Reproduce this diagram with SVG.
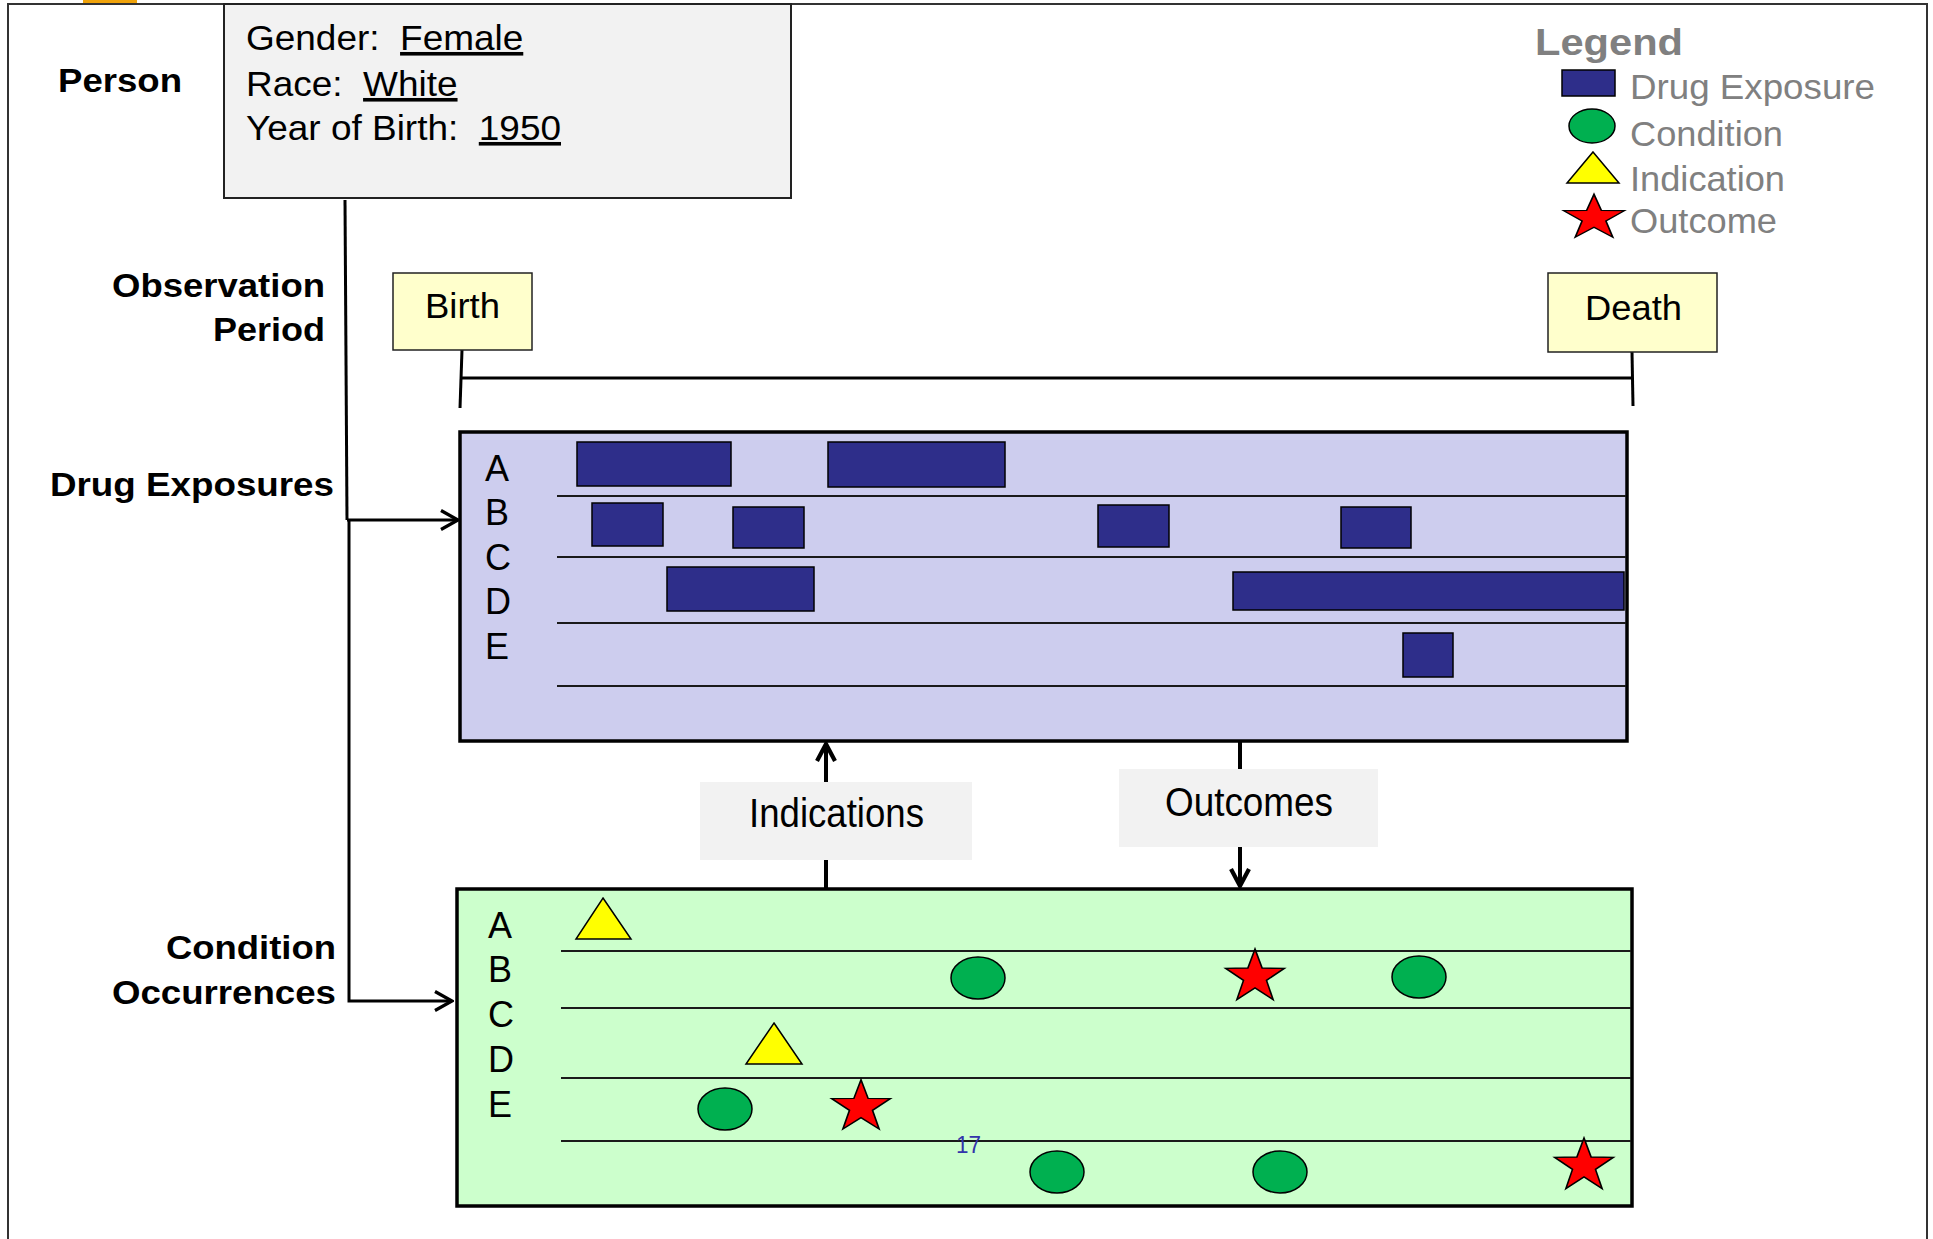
<svg xmlns="http://www.w3.org/2000/svg" xmlns:xlink="http://www.w3.org/1999/xlink" width="1933" height="1239" viewBox="0 0 1933 1239">
<style>
text{font-family:"Liberation Sans",Arial,sans-serif;fill:#000;white-space:pre}
.b{font-weight:bold;font-size:33px}
.lg{fill:#808080;font-size:35px}
.row{font-size:36px}
.u{text-decoration:underline}
.drug{fill:#2e2e8a;stroke:#000;stroke-width:1.5}
.cond{fill:#00b050;stroke:#000;stroke-width:1.5}
.ind{fill:#ffff00;stroke:#000;stroke-width:1.5}
.out{fill:#ff0000;stroke:#000;stroke-width:1.5}
.rl{stroke:#1a1a1a;stroke-width:2.2;fill:none}
.cn{stroke:#000;stroke-width:3;fill:none}
.cn2{stroke:#000;stroke-width:4;fill:none}
.tag{fill:#ffffcc;stroke:#222;stroke-width:1.5}
.lab{fill:#f2f2f2}
</style>
<defs>
<marker id="arr" viewBox="0 0 22 22" refX="20" refY="11" markerWidth="22" markerHeight="22" markerUnits="userSpaceOnUse" orient="auto">
<path d="M3,1.5 L20,11 L3,20.5" fill="none" stroke="#000" stroke-width="3.2"/>
</marker>
<marker id="arr2" viewBox="0 0 22 22" refX="20" refY="11" markerWidth="22" markerHeight="22" markerUnits="userSpaceOnUse" orient="auto">
<path d="M3,2 L20,11 L3,20" fill="none" stroke="#000" stroke-width="4.2"/>
</marker>
<path id="star" d="M0,-28 L6.47,-8.9 L26.63,-8.65 L10.46,3.4 L16.46,22.65 L0,11 L-16.46,22.65 L-10.46,3.4 L-26.63,-8.65 L-6.47,-8.9 Z"/>
</defs>
<rect width="1933" height="1239" fill="#fff"/>
<g id="frame">
<path d="M8,1239 V4 H1927 V1239" fill="none" stroke="#333" stroke-width="2"/>
<rect x="83" y="0" width="54" height="3" fill="#f0a30a"/>
</g>
<g id="connectors">
<path class="cn" d="M462,350 L460,408"/>
<path class="cn" d="M1632,352 L1633,406"/>
<path class="cn" d="M462,378 H1632"/>
<path class="cn" d="M345,200 L347,520"/>
<path class="cn" d="M347,520 H458" marker-end="url(#arr)"/>
<path class="cn" d="M349,520 V1001 H452" marker-end="url(#arr)"/>
<path class="cn2" d="M826,888 V744" marker-end="url(#arr2)"/>
<path class="cn2" d="M1240,741 V886" marker-end="url(#arr2)"/>
</g>
<g id="labels-left">
<text class="b" x="58" y="92" textLength="124" lengthAdjust="spacingAndGlyphs">Person</text>
<text class="b" x="112" y="297" textLength="213" lengthAdjust="spacingAndGlyphs">Observation</text>
<text class="b" x="213" y="341" textLength="112" lengthAdjust="spacingAndGlyphs">Period</text>
<text class="b" x="50" y="496" font-size="32" textLength="284" lengthAdjust="spacingAndGlyphs">Drug Exposures</text>
<text class="b" x="166" y="959" textLength="170" lengthAdjust="spacingAndGlyphs">Condition</text>
<text class="b" x="112" y="1004" textLength="224" lengthAdjust="spacingAndGlyphs">Occurrences</text>
</g>
<g id="person">
<rect x="224" y="4" width="567" height="194" fill="#f2f2f2" stroke="#222" stroke-width="2"/>
<text font-size="36" transform="translate(246,50) scale(1.027,1)">Gender:  <tspan class="u">Female</tspan></text>
<text font-size="36" transform="translate(246,96) scale(1.027,1)">Race:  <tspan class="u">White</tspan></text>
<text font-size="36" transform="translate(246,140) scale(1.027,1)">Year of Birth:  <tspan class="u">1950</tspan></text>
</g>
<g id="legend">
<text x="1535" y="55" font-size="37" font-weight="bold" style="fill:#808080" textLength="148" lengthAdjust="spacingAndGlyphs">Legend</text>
<rect class="drug" x="1562" y="70" width="53" height="26"/>
<text class="lg" x="1630" y="99" textLength="245" lengthAdjust="spacingAndGlyphs">Drug Exposure</text>
<ellipse class="cond" cx="1592" cy="126" rx="23" ry="17"/>
<text class="lg" x="1630" y="146" textLength="153" lengthAdjust="spacingAndGlyphs">Condition</text>
<polygon class="ind" points="1593,152 1619,183 1567,183"/>
<text class="lg" x="1630" y="191" textLength="155" lengthAdjust="spacingAndGlyphs">Indication</text>
<use xlink:href="#star" class="out" transform="translate(1594,218) scale(1.14,0.85)"/>
<text class="lg" x="1630" y="233" textLength="147" lengthAdjust="spacingAndGlyphs">Outcome</text>
</g>
<g id="birth">
<rect class="tag" x="393" y="273" width="139" height="77"/>
<text x="425" y="318" font-size="35" textLength="75" lengthAdjust="spacingAndGlyphs">Birth</text>
</g>
<g id="death">
<rect class="tag" x="1548" y="273" width="169" height="79"/>
<text x="1585" y="320" font-size="35" textLength="97" lengthAdjust="spacingAndGlyphs">Death</text>
</g>
<g id="drug-exposures">
<rect x="460" y="432" width="1167" height="309" fill="#cdcdee" stroke="#000" stroke-width="3.5"/>
<path class="rl" d="M557,496 H1626 M557,557 H1626 M557,623 H1626 M557,686 H1626"/>
<text class="row" x="485" y="481">A</text>
<text class="row" x="485" y="525">B</text>
<text class="row" x="485" y="570">C</text>
<text class="row" x="485" y="614">D</text>
<text class="row" x="485" y="659">E</text>
<rect class="drug" x="577" y="442" width="154" height="44"/>
<rect class="drug" x="828" y="442" width="177" height="45"/>
<rect class="drug" x="592" y="503" width="71" height="43"/>
<rect class="drug" x="733" y="507" width="71" height="41"/>
<rect class="drug" x="1098" y="505" width="71" height="42"/>
<rect class="drug" x="1341" y="507" width="70" height="41"/>
<rect class="drug" x="667" y="567" width="147" height="44"/>
<rect class="drug" x="1233" y="572" width="391" height="38"/>
<rect class="drug" x="1403" y="633" width="50" height="44"/>
</g>
<g id="indications">
<rect class="lab" x="700" y="782" width="272" height="78"/>
<text x="749" y="827" font-size="40" textLength="175" lengthAdjust="spacingAndGlyphs">Indications</text>
</g>
<g id="outcomes">
<rect class="lab" x="1119" y="769" width="259" height="78"/>
<text x="1165" y="816" font-size="40" textLength="168" lengthAdjust="spacingAndGlyphs">Outcomes</text>
</g>
<g id="condition-occurrences">
<rect x="457" y="889" width="1175" height="317" fill="#ccffcc" stroke="#000" stroke-width="3.5"/>
<path class="rl" d="M561,951 H1631 M561,1008 H1631 M561,1078 H1631 M561,1141 H1631"/>
<text class="row" x="488" y="938">A</text>
<text class="row" x="488" y="982">B</text>
<text class="row" x="488" y="1027">C</text>
<text class="row" x="488" y="1072">D</text>
<text class="row" x="488" y="1117">E</text>
<polygon class="ind" points="603,898 631,939 576,939"/>
<polygon class="ind" points="774,1023 802,1064 746,1064"/>
<ellipse class="cond" cx="978" cy="978" rx="27" ry="21"/>
<ellipse class="cond" cx="1419" cy="977" rx="27" ry="21"/>
<ellipse class="cond" cx="725" cy="1109" rx="27" ry="21"/>
<ellipse class="cond" cx="1057" cy="1172" rx="27" ry="21"/>
<ellipse class="cond" cx="1280" cy="1172" rx="27" ry="21"/>
<use xlink:href="#star" class="out" transform="translate(1255,977) scale(1.1,1)"/>
<use xlink:href="#star" class="out" transform="translate(861,1107) scale(1.1,0.97)"/>
<use xlink:href="#star" class="out" transform="translate(1584,1166) scale(1.1,1)"/>
<text x="956" y="1153" font-size="24" style="fill:#3333aa" textLength="25" lengthAdjust="spacingAndGlyphs">17</text>
</g>
</svg>
